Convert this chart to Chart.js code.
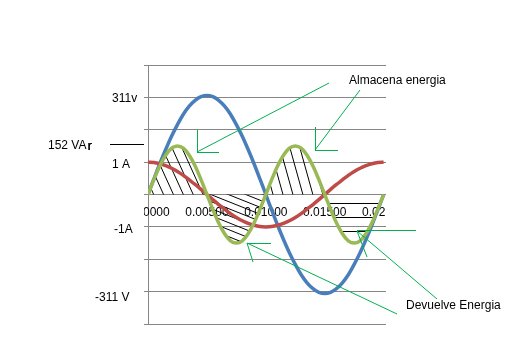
<!DOCTYPE html>
<html><head><meta charset="utf-8">
<style>html,body{margin:0;padding:0;background:#fff}#wrap{width:523px;height:338px}</style>
<script src="https://cdn.jsdelivr.net/npm/chart.js@4.4.1/dist/chart.umd.min.js"></script>
</head><body><div id="wrap"><canvas id="c" width="523" height="338"></canvas></div>
<script>
const times = [0,0.0005,0.001,0.0015,0.002,0.0025,0.003,0.0035,0.004,0.0045,0.005,0.0055,0.006,0.0065,0.007,0.0075,0.008,0.0085,0.009,0.0095,0.01,0.0105,0.011,0.0115,0.012,0.0125,0.013,0.0135,0.014,0.0145,0.015,0.0155,0.016,0.0165,0.017,0.0175,0.018,0.0185,0.019,0.0195,0.02];
const voltage = [0,0.48,0.95,1.39,1.80,2.16,2.48,2.73,2.91,3.02,3.06,3.02,2.91,2.73,2.48,2.16,1.80,1.39,0.95,0.48,0,-0.48,-0.95,-1.39,-1.80,-2.16,-2.48,-2.73,-2.91,-3.02,-3.06,-3.02,-2.91,-2.73,-2.48,-2.16,-1.80,-1.39,-0.95,-0.48,0];
const current = [1,0.99,0.95,0.89,0.81,0.71,0.59,0.45,0.31,0.16,0,-0.16,-0.31,-0.45,-0.59,-0.71,-0.81,-0.89,-0.95,-0.99,-1,-0.99,-0.95,-0.89,-0.81,-0.71,-0.59,-0.45,-0.31,-0.16,0,0.16,0.31,0.45,0.59,0.71,0.81,0.89,0.95,0.99,1];
const power = [0,0.46,0.88,1.21,1.43,1.5,1.43,1.21,0.88,0.46,0,-0.46,-0.88,-1.21,-1.43,-1.5,-1.43,-1.21,-0.88,-0.46,0,0.46,0.88,1.21,1.43,1.5,1.43,1.21,0.88,0.46,0,-0.46,-0.88,-1.21,-1.43,-1.5,-1.43,-1.21,-0.88,-0.46,0];
const xTickValues = [0,0.005,0.01,0.015,0.02];
const xTickLabels = ['0.00000','0.00500','0.01000','0.01500','0.02000'];
const yLabelTexts = ['311v','152 VA','1 A','-1A','-311 V'];
const yLabelValues = [3,1.5,1,-1,-3];
const noteTexts = ['Almacena energia','Devuelve Energia'];

const FONT = '12px "Liberation Sans", Arial, sans-serif';
const GREEN = '#00B050';

function pts(arr){ return times.map((t,i)=>({x:t,y:arr[i]})); }

function hatchRegion(ctx, xs, ys, t0, t1, dx, dy, spacing, px, py){
  const p=[];
  for(let i=0;i<times.length;i++){
    if(times[i]>=t0-1e-9 && times[i]<=t1+1e-9) p.push([xs.getPixelForValue(times[i]), ys.getPixelForValue(power[i])]);
  }
  const y0=ys.getPixelForValue(0);
  ctx.save();
  ctx.beginPath(); ctx.moveTo(p[0][0],y0); p.forEach(q=>ctx.lineTo(q[0],q[1])); ctx.lineTo(p[p.length-1][0],y0); ctx.closePath(); ctx.clip();
  const len=Math.hypot(dx,dy), ux=dx/len, uy=dy/len, nx=-uy, ny=ux;
  ctx.strokeStyle='#000'; ctx.lineWidth=1; ctx.beginPath();
  for(let k=-40;k<=40;k++){
    const cx=px+nx*spacing*k, cy=py+ny*spacing*k;
    ctx.moveTo(cx-ux*300,cy-uy*300); ctx.lineTo(cx+ux*300,cy+uy*300);
  }
  ctx.stroke(); ctx.restore();
}

function seg(ctx,a,b,c,d){ ctx.moveTo(a,b); ctx.lineTo(c,d); }

const overlay = {
  id:'overlay',
  beforeDatasetsDraw(chart){
    const ctx=chart.ctx, xs=chart.scales.x, ys=chart.scales.y, ca=chart.chartArea;
    hatchRegion(ctx,xs,ys,0,0.005,1,2.2,9,193,194);
    hatchRegion(ctx,xs,ys,0.005,0.01,1,0.4,6.5,222,220);
    hatchRegion(ctx,xs,ys,0.01,0.015,1,3.6,9.6,313,195);
    hatchRegion(ctx,xs,ys,0.015,0.02,1,0,14,350,231.5);
    ctx.save();
    ctx.beginPath(); ctx.rect(ca.left-4,0,ca.right-ca.left+3,338); ctx.clip();
    ctx.font=FONT; ctx.fillStyle='#000'; ctx.textAlign='center'; ctx.textBaseline='alphabetic';
    const yb=ys.getPixelForValue(0)+21.5;
    xTickValues.forEach((v,i)=>ctx.fillText(xTickLabels[i], xs.getPixelForValue(v), yb));
    ctx.restore();
  },
  afterDatasetsDraw(chart){
    const ctx=chart.ctx, ys=chart.scales.y;
    ctx.save();
    ctx.font=FONT; ctx.fillStyle='#000'; ctx.textAlign='left'; ctx.textBaseline='alphabetic';
    const lx=[112,48,112,114,95], off=[5,3.5,6,6,9];
    yLabelTexts.forEach((t,i)=>{
      const y=ys.getPixelForValue(yLabelValues[i])+off[i];
      ctx.fillText(t,lx[i],y);
      if(i===1){
        const w=ctx.measureText(t).width;
        ctx.font='13px "Liberation Sans", Arial, sans-serif';
        ctx.fillText('r',lx[i]+w+1,y+1);
        ctx.fillText('r',lx[i]+w+1.4,y+1);
        ctx.font=FONT;
        ctx.strokeStyle='#000'; ctx.lineWidth=1; ctx.beginPath();
        const ly=Math.round(ys.getPixelForValue(yLabelValues[i]))-1.5;
        ctx.moveTo(110,ly); ctx.lineTo(144,ly); ctx.stroke();
      }
    });
    ctx.fillText(noteTexts[0],349,84);
    ctx.fillText(noteTexts[1],406,309);
    ctx.strokeStyle=GREEN; ctx.lineWidth=1; ctx.beginPath();
    seg(ctx,329,83,197,152); seg(ctx,197.5,130,197.5,152); seg(ctx,197,152.5,219,152.5);
    seg(ctx,360,90,315,150); seg(ctx,315.5,127,315.5,150); seg(ctx,315,150.5,338,150.5);
    seg(ctx,397,314,247,243); seg(ctx,247,243.5,271,243.5); seg(ctx,247,243,253,262);
    seg(ctx,437,299,357,231); seg(ctx,357,230.5,416,230.5); seg(ctx,357,231,367,257);
    ctx.stroke();
    ctx.restore();
  }
};

new Chart(document.getElementById('c'),{
  type:'line',
  data:{datasets:[
    {data:pts(power),borderColor:'#98B954',borderWidth:3.5,pointRadius:0,tension:0.3,fill:false},
    {data:pts(current),borderColor:'#BE4B48',borderWidth:3.5,pointRadius:0,tension:0.3,fill:false},
    {data:pts(voltage),borderColor:'#4A7EBB',borderWidth:3.5,pointRadius:0,tension:0.3,fill:false}
  ]},
  options:{
    responsive:false,animation:false,devicePixelRatio:1,
    layout:{padding:{left:144,right:137,top:65,bottom:14}},
    plugins:{legend:{display:false},tooltip:{enabled:false}},
    scales:{
      x:{type:'linear',min:0,max:0.0202,display:false},
      y:{min:-4,max:4,ticks:{display:false,stepSize:1},
         grid:{color:'#868686',lineWidth:1,tickLength:4},
         border:{display:true,color:'#868686',width:1}}
    }
  },
  plugins:[overlay]
});
</script></body></html>
